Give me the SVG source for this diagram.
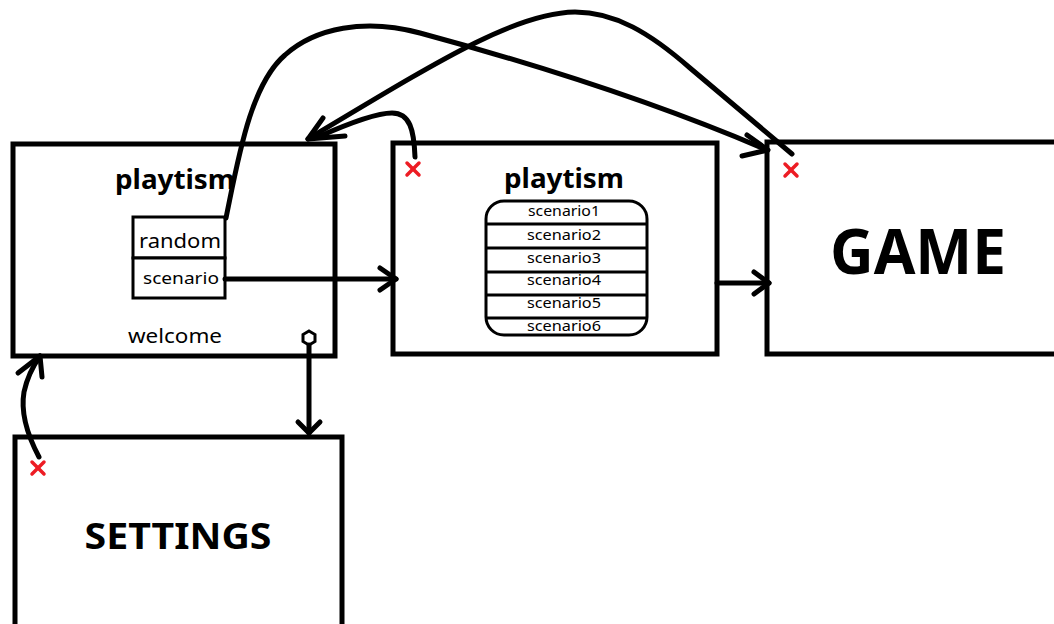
<svg xmlns="http://www.w3.org/2000/svg" width="1054" height="624" viewBox="0 0 1054 624">
<style>
.box{fill:#fff;stroke:#000;stroke-width:5}
.in{fill:#fff;stroke:#000;stroke-width:3}
.row{stroke:#000;stroke-width:3}
.t{font-family:"Noto Sans","DejaVu Sans",sans-serif;fill:#000;text-anchor:middle}
.c{fill:none;stroke:#000;stroke-width:5;stroke-linecap:round;stroke-linejoin:round}
.x{stroke:#ed1c24;stroke-width:3.5;stroke-linecap:round}
</style>
<rect width="1054" height="624" fill="#fff"/>
<g id="welcome">
<rect class="box" x="13" y="144" width="322" height="212"/>
<text class="t" x="175" y="189" font-size="27" font-weight="bold" textLength="120" lengthAdjust="spacingAndGlyphs">playtism</text>
<rect class="in" x="133" y="217" width="92" height="41"/>
<rect class="in" x="133" y="258" width="92" height="40"/>
<text class="t" x="180" y="248" font-size="20" textLength="82" lengthAdjust="spacingAndGlyphs">random</text>
<text class="t" x="181" y="284" font-size="16" textLength="76" lengthAdjust="spacingAndGlyphs">scenario</text>
<text class="t" x="175" y="343" font-size="20" textLength="94" lengthAdjust="spacingAndGlyphs">welcome</text>
<polygon points="309,331 315,334.5 315,341.5 309,345 303,341.5 303,334.5" fill="#fff" stroke="#000" stroke-width="3"/>
</g>
<g id="scenarios">
<rect class="box" x="393" y="143" width="324" height="211"/>
<line class="x" x1="407" y1="163" x2="419" y2="175"/><line class="x" x1="419" y1="163" x2="407" y2="175"/>
<text class="t" x="564" y="188" font-size="27" font-weight="bold" textLength="120" lengthAdjust="spacingAndGlyphs">playtism</text>
<rect class="in" x="486" y="201" width="161" height="134" rx="18"/>
<line class="row" x1="486" y1="224" x2="647" y2="224"/>
<line class="row" x1="486" y1="248" x2="647" y2="248"/>
<line class="row" x1="486" y1="272" x2="647" y2="272"/>
<line class="row" x1="486" y1="295" x2="647" y2="295"/>
<line class="row" x1="486" y1="318" x2="647" y2="318"/>
<g class="t" font-size="14">
<text x="564" y="216" textLength="72" lengthAdjust="spacingAndGlyphs">scenario1</text>
<text x="564" y="240" textLength="74" lengthAdjust="spacingAndGlyphs">scenario2</text>
<text x="564" y="263" textLength="74" lengthAdjust="spacingAndGlyphs">scenario3</text>
<text x="564" y="285" textLength="74" lengthAdjust="spacingAndGlyphs">scenario4</text>
<text x="564" y="308" textLength="74" lengthAdjust="spacingAndGlyphs">scenario5</text>
<text x="564" y="331" textLength="74" lengthAdjust="spacingAndGlyphs">scenario6</text>
</g>
</g>
<g id="game">
<rect class="box" x="767" y="142" width="300" height="212"/>
<line class="x" x1="785" y1="164" x2="797" y2="176"/><line class="x" x1="797" y1="164" x2="785" y2="176"/>
<text class="t" x="918" y="274" font-size="62" font-weight="bold" textLength="176" lengthAdjust="spacingAndGlyphs">GAME</text>
</g>
<g id="settings">
<rect class="box" x="15" y="437" width="327" height="200"/>
<line class="x" x1="32" y1="462" x2="44" y2="474"/><line class="x" x1="44" y1="462" x2="32" y2="474"/>
<text class="t" x="178" y="549" font-size="36" font-weight="bold" textLength="187" lengthAdjust="spacingAndGlyphs">SETTINGS</text>
</g>
<g id="connectors">
<path class="c" d="M226,218 C238,160 250,85 285,55 C315,28 365,18 420,33 C520,60 650,100 767,150"/>
<polyline class="c" points="747,135 768,150 742,156"/>
<path class="c" d="M792,154 L690,68 C650,33 615,12 575,12 C515,13 440,60 308,139"/>
<path class="c" d="M415,157 C414,130 410,113 392,113 C375,113 345,125 318,137"/>
<polyline class="c" points="323,118 308,139 345,136"/>
<line class="c" x1="225" y1="279" x2="396" y2="279"/>
<polyline class="c" points="380,268 396,279 380,290"/>
<line class="c" x1="717" y1="283" x2="769" y2="283"/>
<polyline class="c" points="754,272 769,283 754,294"/>
<line class="c" x1="309" y1="345" x2="309" y2="433"/>
<polyline class="c" points="298,422 309,433 320,422"/>
<path class="c" d="M39,457 C30,440 20,415 24,392 C27,378 33,366 40,356"/>
<polyline class="c" points="18,373 40,356 42,377"/>
</g>
</svg>
